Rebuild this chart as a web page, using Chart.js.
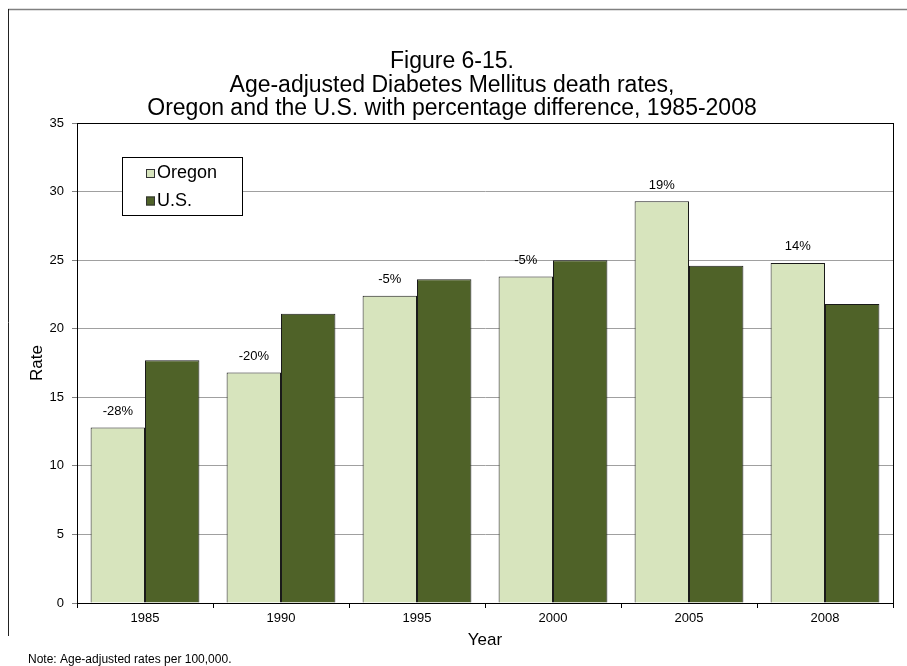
<!DOCTYPE html>
<html>
<head>
<meta charset="utf-8">
<script src="https://cdn.jsdelivr.net/npm/chart.js@4/dist/chart.umd.min.js"></script>
<style>
  html, body { margin: 0; padding: 0; background: #fff; }
  #wrap { width: 907px; height: 666px; }
</style>
</head>
<body>
<div id="wrap"><canvas id="c" width="907" height="666"></canvas></div>
<script>
// Age-adjusted diabetes mellitus death rates per 100,000
const years = ['1985', '1990', '1995', '2000', '2005', '2008'];
const oregonRates = [12.8, 16.8, 22.4, 23.8, 29.3, 24.8];
const usRates = [17.7, 21.1, 23.6, 25.0, 24.6, 21.8];
// Oregon vs U.S. percentage difference, printed above the Oregon bars
const pctDiff = ['-28%', '-20%', '-5%', '-5%', '19%', '14%'];
const titleLines = [
  'Figure 6-15.',
  'Age-adjusted Diabetes Mellitus death rates,',
  'Oregon and the U.S. with percentage difference, 1985-2008'
];
const noteText = 'Note: Age-adjusted rates per 100,000.';

const FONT = "'Liberation Sans', Arial, sans-serif";
const OREGON_FILL = '#D7E4BD';
const US_FILL = '#4F6228';

const decorations = {
  id: 'decorations',
  beforeDraw(chart) {
    const ctx = chart.ctx;
    ctx.save();
    ctx.fillStyle = '#fff';
    ctx.fillRect(0, 0, chart.width, chart.height);
    // outer frame
    ctx.strokeStyle = '#808080';
    ctx.lineWidth = 1.5;
    ctx.beginPath();
    ctx.moveTo(8, 9.5);
    ctx.lineTo(chart.width, 9.5);
    ctx.stroke();
    ctx.strokeStyle = '#222';
    ctx.lineWidth = 1;
    ctx.beginPath();
    ctx.moveTo(8.5, 9);
    ctx.lineTo(8.5, 636);
    ctx.stroke();
    // heading
    ctx.fillStyle = '#000';
    ctx.font = '23px ' + FONT;
    ctx.textAlign = 'center';
    ctx.textBaseline = 'middle';
    const ys = [62, 85.5, 109];
    titleLines.forEach((t, i) => ctx.fillText(t, 452, ys[i]));
    // footnote
    ctx.font = '12px ' + FONT;
    ctx.textAlign = 'left';
    ctx.fillText(noteText, 28, 660);
    ctx.restore();
  },
  afterDatasetsDraw(chart) {
    const ctx = chart.ctx;
    const area = chart.chartArea;
    ctx.save();
    // plot frame
    ctx.strokeStyle = '#000';
    ctx.lineWidth = 1;
    ctx.strokeRect(Math.round(area.left) + 0.5, Math.round(area.top) + 0.5,
      Math.round(area.right - area.left), Math.round(area.bottom - area.top));
    // percentage labels over Oregon bars
    ctx.fillStyle = '#000';
    ctx.font = '13px ' + FONT;
    ctx.textAlign = 'center';
    ctx.textBaseline = 'middle';
    chart.getDatasetMeta(0).data.forEach((bar, i) => {
      ctx.fillText(pctDiff[i], bar.x, bar.y - 16);
    });
    // legend box
    const lx = 122, ly = 157, lw = 120, lh = 58;
    ctx.fillStyle = '#fff';
    ctx.fillRect(lx, ly, lw, lh);
    ctx.strokeStyle = '#000';
    ctx.strokeRect(lx + 0.5, ly + 0.5, lw, lh);
    const rows = [173.5, 201];
    chart.data.datasets.forEach((ds, i) => {
      const y = rows[i];
      ctx.fillStyle = ds.backgroundColor;
      ctx.fillRect(146, y - 4.5, 9, 9);
      ctx.strokeStyle = '#333';
      ctx.strokeRect(146.5, y - 4, 8, 8);
      ctx.fillStyle = '#000';
      ctx.font = '18px ' + FONT;
      ctx.textAlign = 'left';
      ctx.textBaseline = 'middle';
      ctx.fillText(ds.label, 157, y);
    });
    ctx.restore();
  }
};

new Chart(document.getElementById('c'), {
  type: 'bar',
  data: {
    labels: years,
    datasets: [
      {
        label: 'Oregon',
        data: oregonRates,
        backgroundColor: OREGON_FILL,
        borderColor: '#1a1a1a',
        borderWidth: 1,
        categoryPercentage: 0.8,
        barPercentage: 1.0
      },
      {
        label: 'U.S.',
        data: usRates,
        backgroundColor: US_FILL,
        borderColor: '#1a1a1a',
        borderWidth: 1,
        categoryPercentage: 0.8,
        barPercentage: 1.0
      }
    ]
  },
  options: {
    responsive: false,
    animation: false,
    devicePixelRatio: 1,
    layout: { padding: { top: 123, left: 0, right: 14, bottom: 0 } },
    plugins: {
      legend: { display: false },
      title: { display: false },
      tooltip: { enabled: false }
    },
    scales: {
      x: {
        grid: {
          display: true,
          drawOnChartArea: false,
          drawTicks: true,
          tickLength: 5,
          tickColor: '#000',
          offset: true
        },
        border: { display: true, color: '#000', width: 1 },
        ticks: { color: '#000', font: { family: FONT, size: 13 }, padding: 3 },
        title: {
          display: true,
          text: 'Year',
          color: '#000',
          font: { family: FONT, size: 17 },
          padding: { top: 0, bottom: 15.8 }
        },
        afterFit(scale) { scale.height = 63; }
      },
      y: {
        min: 0,
        max: 35,
        ticks: {
          stepSize: 5,
          color: '#000',
          font: { family: FONT, size: 13 },
          padding: 8
        },
        grid: {
          color: '#A0A0A0',
          tickColor: '#808080',
          tickLength: 5,
          drawTicks: true
        },
        border: { display: true, color: '#000', width: 1 },
        title: {
          display: true,
          text: 'Rate',
          color: '#000',
          font: { family: FONT, size: 17 },
          padding: { top: 26.8, bottom: 0 }
        },
        afterFit(scale) { scale.width = 77; }
      }
    }
  },
  plugins: [decorations]
});
</script>
</body>
</html>
